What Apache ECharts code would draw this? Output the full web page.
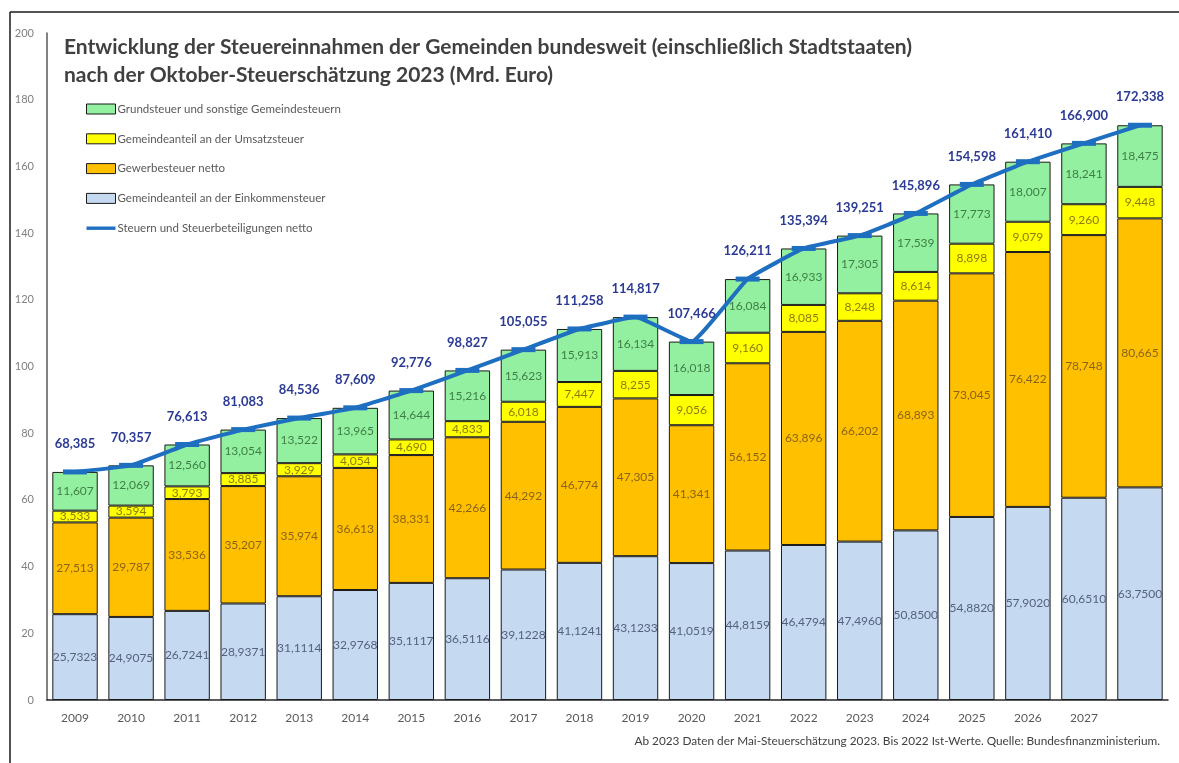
<!DOCTYPE html>
<html>
<head>
<meta charset="utf-8">
<script src="https://cdn.jsdelivr.net/npm/echarts@6/dist/echarts.min.js"></script>
<style>
html,body{margin:0;padding:0;background:#fff;}
#chart{width:1179px;height:763px;}
</style>
</head>
<body>
<div id="chart"></div>
<script>
var categories = ['2009','2010','2011','2012','2013','2014','2015','2016','2017','2018','2019','2020','2021','2022','2023','2024','2025','2026','2027',''];
var einkommensteuer = [25.7323,24.9075,26.7241,28.9371,31.1114,32.9768,35.1117,36.5116,39.1228,41.1241,43.1233,41.0519,44.8159,46.4794,47.4960,50.8500,54.8820,57.9020,60.6510,63.7500];
var gewerbesteuer = [27.513,29.787,33.536,35.207,35.974,36.613,38.331,42.266,44.292,46.774,47.305,41.341,56.152,63.896,66.202,68.893,73.045,76.422,78.748,80.665];
var umsatzsteuer = [3.533,3.594,3.793,3.885,3.929,4.054,4.690,4.833,6.018,7.447,8.255,9.056,9.160,8.085,8.248,8.614,8.898,9.079,9.260,9.448];
var grundsteuer = [11.607,12.069,12.560,13.054,13.522,13.965,14.644,15.216,15.623,15.913,16.134,16.018,16.084,16.933,17.305,17.539,17.773,18.007,18.241,18.475];
var gesamt = [68.385,70.357,76.613,81.083,84.536,87.609,92.776,98.827,105.055,111.258,114.817,107.466,126.211,135.394,139.251,145.896,154.598,161.410,166.900,172.338];
var yTicks = [0,20,40,60,80,100,120,140,160,180,200];

var names = {
  g: 'Grundsteuer und sonstige Gemeindesteuern',
  u: 'Gemeindeanteil an der Umsatzsteuer',
  w: 'Gewerbesteuer netto',
  e: 'Gemeindeanteil an der Einkommensteuer',
  t: 'Steuern und Steuerbeteiligungen netto'
};

function de(d){ return function(p){ return p.value.toFixed(d).replace('.', ','); }; }
var FONT = 'Lato';

function barSeries(name, data, color, labelColor, decimals){
  return {
    name: name, type: 'bar', stack: 'a', data: data,
    barCategoryGap: '19%',
    itemStyle: {color: color, borderColor: '#1a1a1a', borderWidth: 1},
    label: {show: true, position: 'inside', formatter: de(decimals),
            color: labelColor, fontSize: 12, fontFamily: FONT},
    emphasis: {disabled: true}
  };
}

var chart = echarts.init(document.getElementById('chart'));
chart.setOption({
  animation: false,
  backgroundColor: '#ffffff',
  title: {
    text: 'Entwicklung der Steuereinnahmen der Gemeinden bundesweit (einschließlich Stadtstaaten)\nnach der Oktober-Steuerschätzung 2023 (Mrd. Euro)',
    left: 59, top: 28,
    textStyle: {fontFamily: FONT, fontWeight: 'bold', fontSize: 21, color: '#404040', lineHeight: 28}
  },
  legend: {
    orient: 'vertical', left: 81, top: 98,
    itemWidth: 29, itemHeight: 10, itemGap: 17.8,
    textStyle: {fontFamily: FONT, fontSize: 11.5, color: '#595959', padding: [0,0,0,-3]},
    data: [
      {name: names.g, icon: 'rect', itemStyle: {borderColor: '#1a1a1a', borderWidth: 1}},
      {name: names.u, icon: 'rect', itemStyle: {borderColor: '#1a1a1a', borderWidth: 1}},
      {name: names.w, icon: 'rect', itemStyle: {borderColor: '#1a1a1a', borderWidth: 1}},
      {name: names.e, icon: 'rect', itemStyle: {borderColor: '#1a1a1a', borderWidth: 1}},
      {name: names.t, icon: 'path://M0,0 L30,0 L30,3.5 L0,3.5 Z'}
    ]
  },
  grid: {left: 47, right: 11, top: 33, bottom: 63},
  xAxis: {
    type: 'category', data: categories,
    axisLine: {lineStyle: {color: '#262626', width: 1.5}},
    axisTick: {show: false},
    axisLabel: {color: '#595959', fontSize: 12, fontFamily: FONT, margin: 12}
  },
  yAxis: {
    type: 'value', min: yTicks[0], max: yTicks[yTicks.length-1], interval: 20,
    axisLine: {show: true, lineStyle: {color: '#595959', width: 1.5}},
    axisTick: {show: false},
    splitLine: {show: false},
    axisLabel: {color: '#7f7f7f', fontSize: 11, fontFamily: FONT, margin: 13}
  },
  series: [
    barSeries(names.e, einkommensteuer, '#c5d9f1', '#55627f', 4),
    barSeries(names.w, gewerbesteuer, '#ffc000', '#8a6418', 3),
    barSeries(names.u, umsatzsteuer, '#ffff00', '#8c7d10', 3),
    barSeries(names.g, grundsteuer, '#92f0a0', '#3f7f45', 3),
    {
      name: names.t, type: 'line', data: gesamt, smooth: 0.1,
      lineStyle: {color: '#1f6fc1', width: 4},
      itemStyle: {color: '#1f6fc1'},
      symbol: 'rect', symbolSize: [24, 5],
      label: {show: true, position: 'top', distance: 19, formatter: de(3),
              color: '#2b3a94', fontWeight: 'bold', fontSize: 13, fontFamily: FONT},
      z: 5,
      emphasis: {disabled: true}
    }
  ],
  graphic: [
    {type: 'line', shape: {x1: 10, y1: 12, x2: 1179, y2: 12}, style: {stroke: '#1a1a1a', lineWidth: 1.5}},
    {type: 'line', shape: {x1: 10, y1: 12, x2: 10, y2: 763}, style: {stroke: '#1a1a1a', lineWidth: 1.5}},
    {type: 'text', right: 19, top: 735,
     style: {text: 'Ab 2023 Daten der Mai-Steuerschätzung 2023. Bis 2022 Ist-Werte. Quelle: Bundesfinanzministerium.',
             fill: '#404040', font: '11.8px Lato'}}
  ]
});
</script>
</body>
</html>
